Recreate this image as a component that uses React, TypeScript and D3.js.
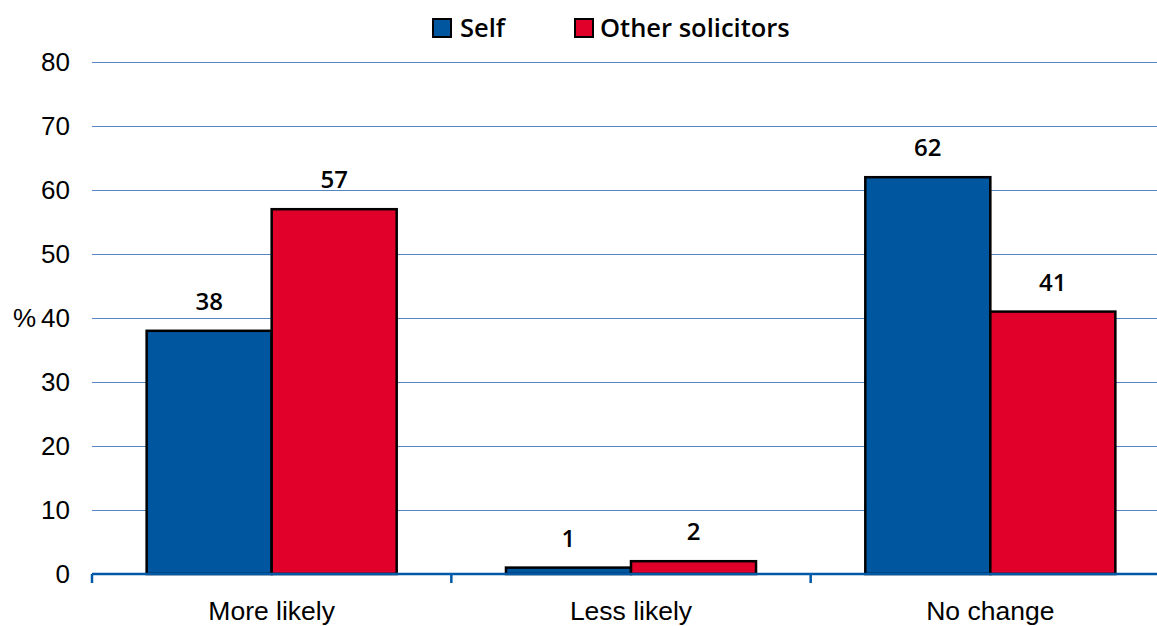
import React from "react";
import * as d3 from "d3";

const categories = ["More likely", "Less likely", "No change"];
const seriesNames = ["Self", "Other solicitors"];
const selfValues = [38, 1, 62];
const otherValues = [57, 2, 41];
const yTicks = [0, 10, 20, 30, 40, 50, 60, 70, 80];
const colors = ["#0057a0", "#e0002a"];

const W = 1157;
const H = 626;
const left = 92;
const right = 1170;
const top = 62;
const bottom = 574;

export default function App() {
  const y = d3.scaleLinear().domain([0, 80]).range([bottom, top]);
  const x0 = d3.scaleBand<string>().domain(categories).range([left, right]).padding(0);
  const x1 = d3
    .scaleBand<string>()
    .domain(seriesNames)
    .range([0, x0.bandwidth()])
    .paddingInner(0)
    .paddingOuter(0.437);
  const values = [selfValues, otherValues];
  const tickFont = "'Liberation Sans', Arial, sans-serif";
  const labelFont = "'Open Sans', sans-serif";

  const legendItems = [
    { name: seriesNames[0], bx: 433, tx: 460 },
    { name: seriesNames[1], bx: 575, tx: 600 },
  ];

  return (
    <svg
      width={W}
      height={H}
      style={{ position: "absolute", left: 0, top: 0, background: "#fff" }}
    >
      {yTicks
        .filter((t) => t > 0)
        .map((t) => (
          <line
            key={"g" + t}
            x1={left}
            x2={W}
            y1={Math.round(y(t)) + 0.5}
            y2={Math.round(y(t)) + 0.5}
            stroke="#5585c2"
            strokeWidth={1}
          />
        ))}
      {yTicks.map((t) => (
        <text
          key={"t" + t}
          x={70}
          y={y(t)}
          dy="0.36em"
          textAnchor="end"
          fontFamily={tickFont}
          fontSize={26}
          fill="#000"
        >
          {t}
        </text>
      ))}
      <text x={13} y={y(40)} dy="0.36em" fontFamily={tickFont} fontSize={26} fill="#000">
        %
      </text>
      {categories.map((c, ci) =>
        seriesNames.map((s, si) => {
          const v = values[si][ci];
          const bx = (x0(c) as number) + (x1(s) as number);
          const bw = x1.bandwidth();
          return (
            <g key={c + s}>
              <rect
                x={bx}
                y={y(v)}
                width={bw}
                height={bottom - y(v)}
                fill={colors[si]}
                stroke="#000"
                strokeWidth={2.5}
              />
              <text
                x={bx + bw / 2}
                y={y(v) - 21}
                textAnchor="middle"
                fontFamily={labelFont}
                fontWeight={600}
                fontSize={24}
                fill="#000"
              >
                {v}
              </text>
            </g>
          );
        })
      )}
      <line x1={left} x2={W} y1={bottom} y2={bottom} stroke="#0059a6" strokeWidth={2.5} />
      {categories.map((c) => (
        <line
          key={"tk" + c}
          x1={(x0(c) as number)}
          x2={(x0(c) as number)}
          y1={bottom}
          y2={bottom + 9}
          stroke="#0059a6"
          strokeWidth={2.5}
        />
      ))}
      {categories.map((c) => (
        <text
          key={"c" + c}
          x={(x0(c) as number) + x0.bandwidth() / 2}
          y={620}
          textAnchor="middle"
          fontFamily={tickFont}
          fontSize={26.5}
          fill="#000"
        >
          {c}
        </text>
      ))}
      {legendItems.map((l, i) => (
        <g key={l.name}>
          <rect x={l.bx} y={19} width={18} height={18} fill={colors[i]} stroke="#000" strokeWidth={2} />
          <text x={l.tx} y={37} fontFamily={labelFont} fontWeight={600} fontSize={25.5} fill="#000">
            {l.name}
          </text>
        </g>
      ))}
    </svg>
  );
}
